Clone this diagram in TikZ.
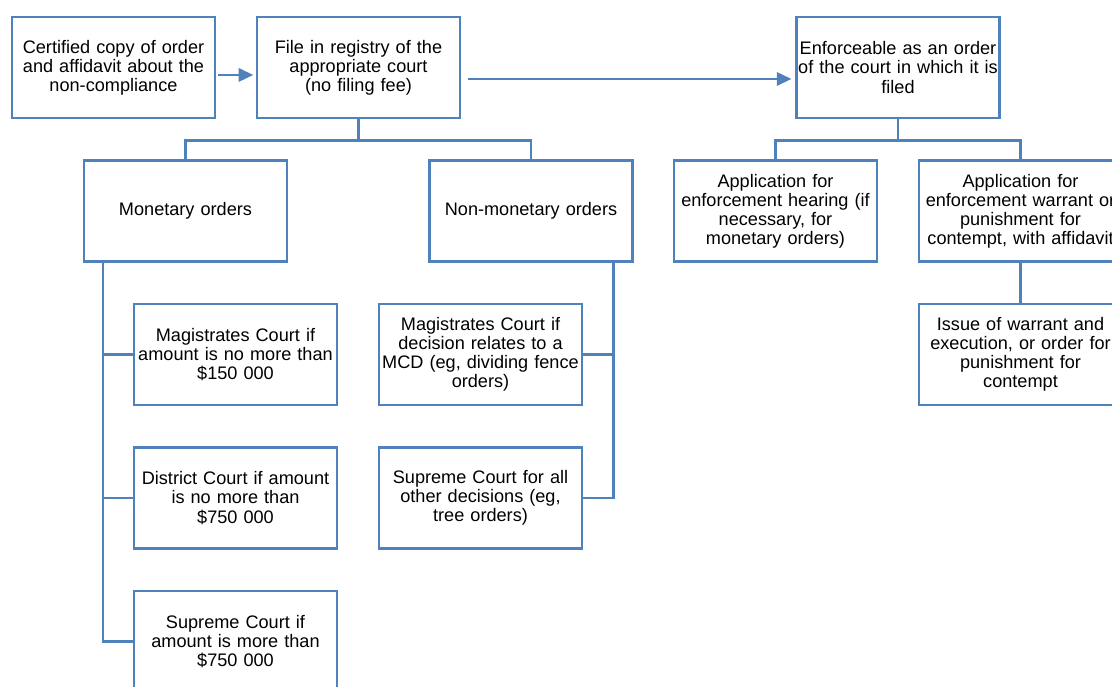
\documentclass[tikz,border=0pt]{standalone}
\usepackage{fontspec}
\setmainfont{Liberation Sans}
\usepackage{tikz}
\usetikzlibrary{positioning,arrows.meta}
\definecolor{courtblue}{HTML}{4F81BD}

\begin{document}
\begin{tikzpicture}[x=0.75pt,y=-0.75pt,
    orderbox/.style={draw=courtblue, line width=1.8pt, fill=white, text width=150pt,
        inner sep=1pt, minimum height=76pt, align=center,
        font=\fontsize{13.6}{14.3}\selectfont},
    link/.style={draw=courtblue, line width=1.8pt},
    flow/.style={link, -{Triangle[length=11pt,width=10pt]}}]
        \clip (0,0) rectangle (1112,686);

        % filing
        \node[orderbox] (cert) at (113.5,67.5) {Certified copy of order\\and affidavit about the\\non-compliance};
        \node[orderbox] (file) at (358.5,67.5) {File in registry of the\\appropriate court\\(no filing fee)};
        \node[orderbox] (enf) at (898,67.5) {Enforceable as an order\\of the court in which it is\\filed};

        % kinds of orders
        \node[orderbox] (mon) at (185.5,211) {Monetary orders};
        \node[orderbox] (nonmon) at (531,211) {Non-monetary orders};

        % enforcement
        \node[orderbox] (hear) at (775.5,211) {Application for\\enforcement hearing (if\\necessary, for\\monetary orders)};
        \node[orderbox] (warr) at (1020.5,211) {Application for\\enforcement warrant or\\punishment for\\contempt, with affidavit};
        \node[orderbox] (issue) at (1020.5,354.5) {Issue of warrant and\\execution, or order for\\punishment for\\contempt};

        % monetary courts
        \node[orderbox] (magamt) at (235.5,354.5) {Magistrates Court if\\amount is no more than\\\$150 000};
        \node[orderbox] (distamt) at (235.5,498) {District Court if amount\\is no more than\\\$750 000};
        \node[orderbox] (supamt) at (235.5,641.5) {Supreme Court if\\amount is more than\\\$750 000};

        % non-monetary courts
        \node[orderbox] (magmcd) at (480.5,354.5) {Magistrates Court if\\decision relates to a\\MCD (eg, dividing fence\\orders)};
        \node[orderbox] (supall) at (480.5,498) {Supreme Court for all\\other decisions (eg,\\tree orders)};

        % arrows
        \draw[flow, shorten <=1.5pt, shorten >=2pt] ([yshift=-5.6pt]cert.east) -- ([yshift=-5.6pt]file.west);
        \draw[flow, shorten <=5pt, shorten >=3pt] ([yshift=-8.6pt]file.east) -- ([yshift=-8.6pt]enf.west);

        % tree lines
        \draw[link] (file.south) -- ++(0,21) -| (mon.north);
        \draw[link] (file.south) -- ++(0,21) -| (nonmon.north);
        \draw[link] (enf.south) -- ++(0,21) -| (hear.north);
        \draw[link] (enf.south) -- ++(0,21) -| (warr.north);
        \draw[link] (warr) -- (issue);
        \foreach \court in {magamt,distamt,supamt}
            \draw[link] ([xshift=15pt]mon.south west) |- (\court.west);
        \foreach \court in {magmcd,supall}
            \draw[link] ([xshift=-15pt]nonmon.south east) |- (\court.east);
    \end{tikzpicture}
\end{document}
